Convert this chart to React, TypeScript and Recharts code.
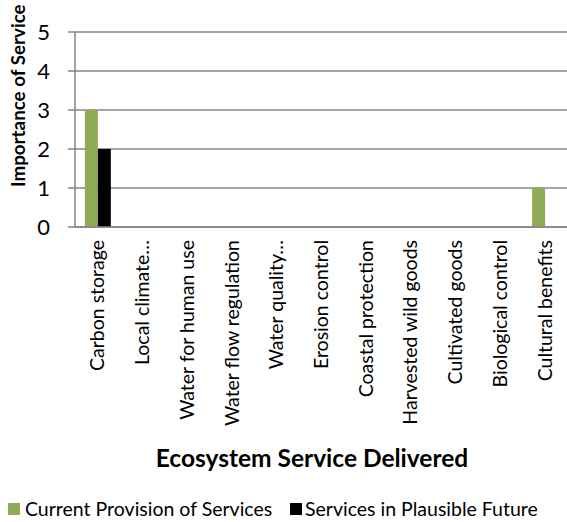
import React from 'react';
import { BarChart, Bar, XAxis, YAxis, CartesianGrid, Legend } from 'recharts';

const categories = [
  'Carbon storage',
  'Local climate…',
  'Water for human use',
  'Water flow regulation',
  'Water quality…',
  'Erosion control',
  'Coastal protection',
  'Harvested wild goods',
  'Cultivated goods',
  'Biological control',
  'Cultural benefits',
];
const currentProvision = [3, 0, 0, 0, 0, 0, 0, 0, 0, 0, 1];
const plausibleFuture = [2, 0, 0, 0, 0, 0, 0, 0, 0, 0, 0];
const yTicks = [0, 1, 2, 3, 4, 5];
const boundaryTicks = [0, 1, 2, 3, 4, 5, 6, 7, 8, 9, 10, 11];

const SERIES_CURRENT = 'Current Provision of Services';
const SERIES_FUTURE = 'Services in Plausible Future';
const GREEN = '#8EAC53';
const GRAY = '#868686';
const FONT = 'Lato, sans-serif';

const data = categories.map((name, i) => ({
  name,
  idx: i,
  current: currentProvision[i],
  future: plausibleFuture[i],
}));

const CategoryTick = (props: any) => {
  const { x, y, payload } = props;
  return (
    <text
      x={x}
      y={y}
      transform={`rotate(-90, ${x}, ${y})`}
      textAnchor="end"
      dy="0.36em"
      fontSize={19.5}
      fontFamily={FONT}
      fill="#000"
    >
      {payload.value}
    </text>
  );
};

const ValueTick = (props: any) => {
  const { x, y, payload } = props;
  return (
    <text x={x} y={y} textAnchor="end" dy="0.36em" fontSize={22} fontFamily={FONT} fill="#000">
      {payload.value}
    </text>
  );
};

const YTitle = (props: any) => {
  const vb = props.viewBox || { x: 0, y: 32, width: 75, height: 195 };
  const x = vb.x + 25;
  const y = vb.y + vb.height - 40;
  return (
    <text
      x={x}
      y={y}
      transform={`rotate(-90, ${x}, ${y})`}
      textAnchor="start"
      fontSize={18.8}
      fontWeight="bold"
      fontFamily={FONT}
      fill="#000"
    >
      Importance of Service
    </text>
  );
};

const XTitle = () => (
  <text
    x={312}
    y={467}
    textAnchor="middle"
    fontSize={24.5}
    fontWeight="bold"
    fontFamily={FONT}
    fill="#000"
  >
    Ecosystem Service Delivered
  </text>
);

const LegendContent = () => (
  <div style={{ position: 'relative', height: 20, width: 567, fontFamily: FONT, fontSize: 19.5, color: '#000' }}>
    <div style={{ position: 'absolute', left: 8, top: 4, width: 12, height: 12, background: GREEN }} />
    <div style={{ position: 'absolute', left: 25, top: 0, lineHeight: '20px', whiteSpace: 'nowrap' }}>{SERIES_CURRENT}</div>
    <div style={{ position: 'absolute', left: 290, top: 4, width: 12, height: 12, background: '#000' }} />
    <div style={{ position: 'absolute', left: 305, top: 0, lineHeight: '20px', whiteSpace: 'nowrap' }}>{SERIES_FUTURE}</div>
  </div>
);

export default function App() {
  return (
    <div style={{ position: 'absolute', left: 0, top: 0, width: 567, height: 522, background: '#fff', fontFamily: FONT }}>
      <BarChart
        width={567}
        height={522}
        data={data}
        margin={{ top: 32, right: 0, left: 0, bottom: 273 }}
        barCategoryGap="22%"
        barGap={0}
      >
        <CartesianGrid vertical={false} stroke={GRAY} strokeWidth={1.5} />
        <XAxis
          xAxisId="bounds"
          type="number"
          dataKey="idx"
          domain={[0, 11]}
          ticks={boundaryTicks}
          allowDataOverflow
          tick={false}
          tickSize={7}
          tickLine={{ stroke: GRAY, strokeWidth: 1.5 }}
          axisLine={{ stroke: GRAY, strokeWidth: 1.5 }}
          height={1}
        />
        <XAxis
          xAxisId="cat"
          dataKey="name"
          type="category"
          interval={0}
          tick={<CategoryTick />}
          tickLine={false}
          tickSize={0}
          tickMargin={12}
          axisLine={false}
          height={1}
          label={<XTitle />}
        />
        <YAxis
          domain={[0, 5]}
          ticks={yTicks}
          width={75}
          tickSize={7}
          tickMargin={18}
          tick={<ValueTick />}
          tickLine={{ stroke: GRAY, strokeWidth: 1.5 }}
          axisLine={{ stroke: GRAY, strokeWidth: 1.5 }}
          label={<YTitle />}
        />
        <Legend
          verticalAlign="bottom"
          content={<LegendContent />}
          wrapperStyle={{ position: 'absolute', left: 0, top: 499, width: 567, height: 20 }}
        />
        <Bar xAxisId="cat" dataKey="current" name={SERIES_CURRENT} fill={GREEN} isAnimationActive={false} />
        <Bar xAxisId="cat" dataKey="future" name={SERIES_FUTURE} fill="#000" isAnimationActive={false} />
      </BarChart>
    </div>
  );
}
